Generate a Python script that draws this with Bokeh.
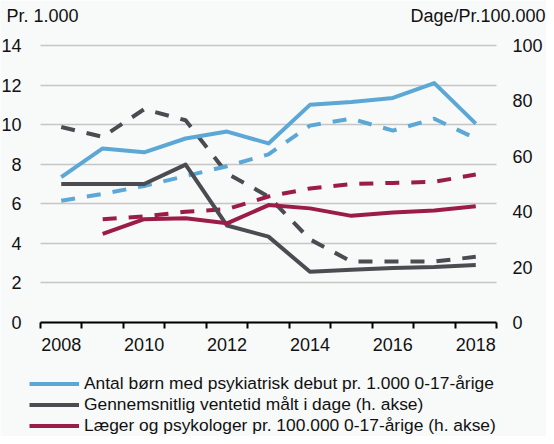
from bokeh.plotting import figure
from bokeh.models import (Range1d, LinearAxis, FixedTicker, Legend, LegendItem, Label)
from bokeh.embed import file_html
from bokeh.resources import INLINE

# ---- data ----
years = [2008, 2009, 2010, 2011, 2012, 2013, 2014, 2015, 2016, 2017, 2018]
years_laeger = [2009, 2010, 2011, 2012, 2013, 2014, 2015, 2016, 2017, 2018]

born = [7.35, 8.8, 8.6, 9.3, 9.65, 9.05, 11.0, 11.15, 11.35, 12.1, 10.05]
born_dashed = [6.15, 6.5, 6.9, 7.4, 7.9, 8.5, 9.95, 10.3, 9.7, 10.3, 9.3]
ventetid = [50, 50, 50, 57, 35, 31, 18.3, 19, 19.7, 20, 20.8]
ventetid_dashed = [70.6, 67, 77, 73, 53.8, 45.5, 30, 22, 22, 22, 23.7]
laeger = [32, 37.3, 37.6, 35.8, 42.4, 41.2, 38.5, 39.7, 40.4, 42]
laeger_dashed = [37.3, 38.3, 40, 40.9, 45.5, 48.4, 50, 50.4, 50.8, 53.4]

left_ticks = [0, 2, 4, 6, 8, 10, 12, 14]
right_ticks = [0, 20, 40, 60, 80, 100]
x_labels = [2008, 2010, 2012, 2014, 2016, 2018]

labels = [
    "Antal børn med psykiatrisk debut pr. 1.000 0-17-årige",
    "Gennemsnitlig ventetid målt i dage (h. akse)",
    "Læger og psykologer pr. 100.000 0-17-årige (h. akse)",
]
left_title = "Pr. 1.000"
right_title = "Dage/Pr.100.000"

BLUE = "#5ba8d6"
GREY = "#4b4c51"
RED = "#9b1d47"
BG = "#f8f9f9"
TXT = "#111111"
FONT = "Liberation Sans"

# ---- layout (pixels on the canvas) ----
W, H = 546, 436
PL, PR = 40, 496          # plot-area left / right edge
PT, PB = 45, 322          # plot-area top / bottom edge
x0, x1 = min(years) - 0.5, max(years) + 0.5
ly0, ly1 = left_ticks[0], left_ticks[-1]
ry0, ry1 = right_ticks[0], right_ticks[-1]

xs = (x1 - x0) / (PR - PL)
ys = (ly1 - ly0) / (PB - PT)
rs = (ry1 - ry0) / (PB - PT)

p = figure(width=W, height=H, output_backend="svg", toolbar_location=None,
           x_range=Range1d(x0 - PL * xs, x1 + (W - PR) * xs),
           y_range=Range1d(ly0 - (H - PB) * ys, ly1 + PT * ys),
           min_border=0)
p.extra_y_ranges = {"r": Range1d(ry0 - (H - PB) * rs, ry1 + PT * rs)}
p.background_fill_color = BG
p.border_fill_color = BG
p.outline_line_color = None

# x axis (at y = 0)
xa = p.xaxis[0]
xa.fixed_location = 0
xa.bounds = (x0, x1)
xa.ticker = FixedTicker(ticks=x_labels, minor_ticks=[y - 0.5 for y in years] + [x1])
xa.axis_line_color = "black"
xa.axis_line_width = 2
xa.major_tick_in = 0
xa.major_tick_out = 0
xa.major_tick_line_color = None
xa.minor_tick_in = 0
xa.minor_tick_out = 6
xa.minor_tick_line_color = "black"
xa.minor_tick_line_width = 2
xa.major_label_standoff = 9
xa.major_label_text_font = FONT
xa.major_label_text_font_size = "18px"
xa.major_label_text_color = TXT

# left axis
ya = p.yaxis[0]
ya.fixed_location = x0
ya.bounds = (ly0, ly1)
ya.ticker = FixedTicker(ticks=left_ticks)
ya.axis_line_color = None
ya.major_tick_line_color = None
ya.minor_tick_line_color = None
ya.major_tick_in = 0
ya.major_tick_out = 0
ya.major_label_standoff = 19
ya.major_label_text_font = FONT
ya.major_label_text_font_size = "18px"
ya.major_label_text_color = TXT

# right axis
ra = LinearAxis(y_range_name="r", ticker=FixedTicker(ticks=right_ticks),
                fixed_location=x1, bounds=(ry0, ry1))
ra.axis_line_color = None
ra.major_tick_line_color = None
ra.minor_tick_line_color = None
ra.major_tick_in = 0
ra.major_tick_out = 0
ra.major_label_standoff = 16
ra.major_label_text_font = FONT
ra.major_label_text_font_size = "18px"
ra.major_label_text_color = TXT
p.add_layout(ra, "right")

p.xgrid.grid_line_color = None
g = p.ygrid[0]
g.ticker = FixedTicker(ticks=left_ticks)
if "cross_bounds" in g.properties():
    g.cross_bounds = (x0, x1)
    g.grid_line_color = "#c6c6c6"
    g.grid_line_width = 1.3
else:
    g.visible = False
    p.segment(x0=[x0] * len(left_ticks), y0=left_ticks, x1=[x1] * len(left_ticks),
              y1=left_ticks, line_color="#c6c6c6", line_width=1.3)

LW = 4
DASH = "14 12"
p.line(years, ventetid_dashed, y_range_name="r", color=GREY, line_width=LW, line_dash=DASH)
p.line(years, born_dashed, color=BLUE, line_width=LW, line_dash=DASH)
p.line(years_laeger, laeger_dashed, y_range_name="r", color=RED, line_width=LW, line_dash=DASH)
r_grey = p.line(years, ventetid, y_range_name="r", color=GREY, line_width=LW, line_join="round")
r_red = p.line(years_laeger, laeger, y_range_name="r", color=RED, line_width=LW, line_join="round")
r_blue = p.line(years, born, color=BLUE, line_width=LW, line_join="round")

legend = Legend(items=[LegendItem(label=labels[0], renderers=[r_blue]),
                       LegendItem(label=labels[1], renderers=[r_grey]),
                       LegendItem(label=labels[2], renderers=[r_red])],
                location=(29, 0), orientation="vertical",
                background_fill_alpha=0, border_line_color=None,
                padding=0, margin=0, spacing=0,
                glyph_width=50, glyph_height=21, label_height=21, label_standoff=5,
                label_text_font=FONT, label_text_font_size="17.4px", label_text_color=TXT)
p.add_layout(legend, "center")

p.add_layout(Label(x=6, y=H - 15, x_units="screen", y_units="screen", text=left_title,
                   text_font=FONT, text_font_size="18px", text_baseline="middle",
                   text_align="left", text_color=TXT))
p.add_layout(Label(x=W - 1, y=H - 15, x_units="screen", y_units="screen", text=right_title,
                   text_font=FONT, text_font_size="18px", text_baseline="middle",
                   text_align="right", text_color=TXT))

open("out.html", "w").write(file_html(p, INLINE))
